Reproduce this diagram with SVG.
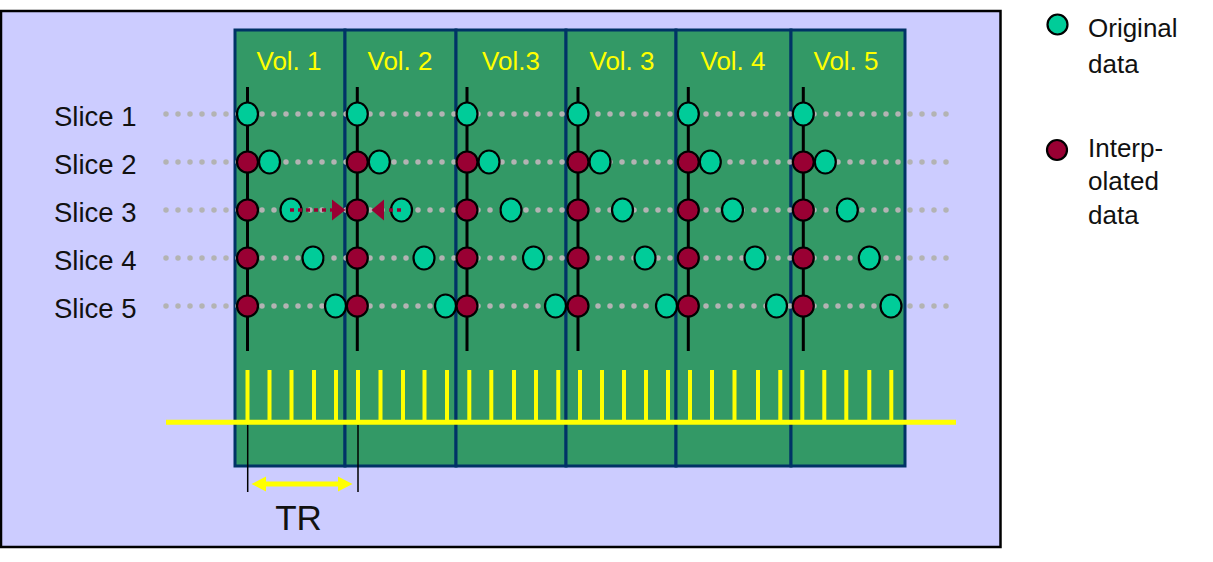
<svg xmlns="http://www.w3.org/2000/svg" width="1213" height="562" viewBox="0 0 1213 562">
<style>
.lbl{font-family:"Liberation Sans",Arial,sans-serif;font-size:27.5px;fill:#111}
.vol{font-family:"Liberation Sans",Arial,sans-serif;font-size:26px;fill:#FFFF00;text-anchor:middle}
.leg{font-size:26px}
.col{fill:#339966;stroke:#003366;stroke-width:3}
.dots{stroke:#B3B3B3;stroke-width:5.5;stroke-dasharray:0 12;stroke-linecap:round;fill:none}
.vline{stroke:#000;stroke-width:3}
.orig{fill:#00CC99;stroke:#000;stroke-width:2.2}
.interp{fill:#990033;stroke:#000;stroke-width:2.2}
.tick{stroke:#FFFF00;stroke-width:4}
.red{stroke:#990033;stroke-width:3.5;stroke-dasharray:4 4;fill:none}
</style>
<defs>
<ellipse id="o" class="orig" rx="10.5" ry="11.5"/>
<circle id="r" class="interp" r="10.5"/>
</defs>
<rect id="background" x="1" y="11" width="999.5" height="536" fill="#CCCCFF" stroke="#000" stroke-width="2.5"/>
<g id="volumes">
<g id="vol1"><rect class="col" x="235" y="30" width="110" height="436"/><text class="vol" x="289" y="70">Vol. 1</text></g>
<g id="vol2"><rect class="col" x="345" y="30" width="111" height="436"/><text class="vol" x="400" y="70">Vol. 2</text></g>
<g id="vol3"><rect class="col" x="456" y="30" width="110" height="436"/><text class="vol" x="511" y="70">Vol.3</text></g>
<g id="vol4"><rect class="col" x="566" y="30" width="110" height="436"/><text class="vol" x="622" y="70">Vol. 3</text></g>
<g id="vol5"><rect class="col" x="676" y="30" width="115" height="436"/><text class="vol" x="733" y="70">Vol. 4</text></g>
<g id="vol6"><rect class="col" x="791" y="30" width="114" height="436"/><text class="vol" x="846" y="70">Vol. 5</text></g>
</g>
<g id="slice-labels">
<text class="lbl" x="54" y="126">Slice 1</text>
<text class="lbl" x="54" y="174">Slice 2</text>
<text class="lbl" x="54" y="222">Slice 3</text>
<text class="lbl" x="54" y="270">Slice 4</text>
<text class="lbl" x="54" y="318">Slice 5</text>
</g>
<g id="connectors">
<path class="dots" d="M166 114H947M166 162H947M166 210H947M166 258H947M166 306H947"/>
<path class="vline" d="M247.5 87V351M357.3 87V351M467 87V351M578 87V351M688.3 87V351M803.3 87V351"/>
</g>
<g id="samples">
<g id="col1-samples">
<use href="#o" x="247.5" y="114"/><use href="#r" x="247.5" y="162"/><use href="#o" x="269.5" y="162"/>
<use href="#r" x="247.5" y="210"/><use href="#o" x="291" y="210"/>
<use href="#r" x="247.5" y="258"/><use href="#o" x="313" y="258"/>
<use href="#r" x="247.5" y="306"/><use href="#o" x="335.5" y="306"/>
</g>
<g id="col2-samples">
<use href="#o" x="357.3" y="114"/><use href="#r" x="357.3" y="162"/><use href="#o" x="379.3" y="162"/>
<use href="#r" x="357.3" y="210"/><use href="#o" x="401.5" y="210"/>
<use href="#r" x="357.3" y="258"/><use href="#o" x="424" y="258"/>
<use href="#r" x="357.3" y="306"/><use href="#o" x="445.5" y="306"/>
</g>
<g id="col3-samples">
<use href="#o" x="467" y="114"/><use href="#r" x="467" y="162"/><use href="#o" x="489" y="162"/>
<use href="#r" x="467" y="210"/><use href="#o" x="511" y="210"/>
<use href="#r" x="467" y="258"/><use href="#o" x="533.5" y="258"/>
<use href="#r" x="467" y="306"/><use href="#o" x="555.5" y="306"/>
</g>
<g id="col4-samples">
<use href="#o" x="578" y="114"/><use href="#r" x="578" y="162"/><use href="#o" x="600" y="162"/>
<use href="#r" x="578" y="210"/><use href="#o" x="622.5" y="210"/>
<use href="#r" x="578" y="258"/><use href="#o" x="645" y="258"/>
<use href="#r" x="578" y="306"/><use href="#o" x="666.5" y="306"/>
</g>
<g id="col5-samples">
<use href="#o" x="688.3" y="114"/><use href="#r" x="688.3" y="162"/><use href="#o" x="710.3" y="162"/>
<use href="#r" x="688.3" y="210"/><use href="#o" x="732.5" y="210"/>
<use href="#r" x="688.3" y="258"/><use href="#o" x="755" y="258"/>
<use href="#r" x="688.3" y="306"/><use href="#o" x="776.5" y="306"/>
</g>
<g id="col6-samples">
<use href="#o" x="803.3" y="114"/><use href="#r" x="803.3" y="162"/><use href="#o" x="825.3" y="162"/>
<use href="#r" x="803.3" y="210"/><use href="#o" x="847.3" y="210"/>
<use href="#r" x="803.3" y="258"/><use href="#o" x="869.3" y="258"/>
<use href="#r" x="803.3" y="306"/><use href="#o" x="891" y="306"/>
</g>
</g>
<g id="interp-arrows">
<path class="red" d="M290 210H332"/>
<polygon points="332,199.5 345.5,210 332,220.5" fill="#990033"/>
<path class="red" d="M401 210H385"/>
<polygon points="384,199.5 371.5,210 384,220.5" fill="#990033"/>
</g>
<g id="timeline">
<path class="tick" d="M247.5 370V422M269.5 370V422M291.5 370V422M314 370V422M336 370V422M358 370V422M380.5 370V422M403 370V422M424.5 370V422M447 370V422M469.3 370V422M491.3 370V422M514 370V422M536 370V422M558.3 370V422M580 370V422M602 370V422M624 370V422M646 370V422M668 370V422M690 370V422M712 370V422M734.5 370V422M758 370V422M780.3 370V422M802.3 370V422M824.3 370V422M846.3 370V422M869.3 370V422M891.3 370V422"/>
<path d="M166 422.3H956" stroke="#FFFF00" stroke-width="5"/>
</g>
<g id="tr">
<path d="M247.7 425V492M358 425V492" stroke="#000" stroke-width="1.5"/>
<path d="M263 484H341" stroke="#FFFF00" stroke-width="5"/>
<polygon points="251.5,484 266,476.5 266,491.5" fill="#FFFF00"/>
<polygon points="352.5,484 338,476.5 338,491.5" fill="#FFFF00"/>
<text class="lbl" x="298.5" y="530" text-anchor="middle" style="font-size:35px">TR</text>
</g>
<g id="legend">
<g id="legend-original"><circle class="orig" cx="1057.5" cy="24.5" r="10"/>
<text class="lbl leg" x="1088" y="37">Original</text>
<text class="lbl leg" x="1088" y="72.5">data</text></g>
<g id="legend-interp"><circle class="interp" cx="1057" cy="150" r="10"/>
<text class="lbl leg" x="1088" y="157">Interp-</text>
<text class="lbl leg" x="1088" y="190">olated</text>
<text class="lbl leg" x="1088" y="223.5">data</text></g>
</g>
</svg>
